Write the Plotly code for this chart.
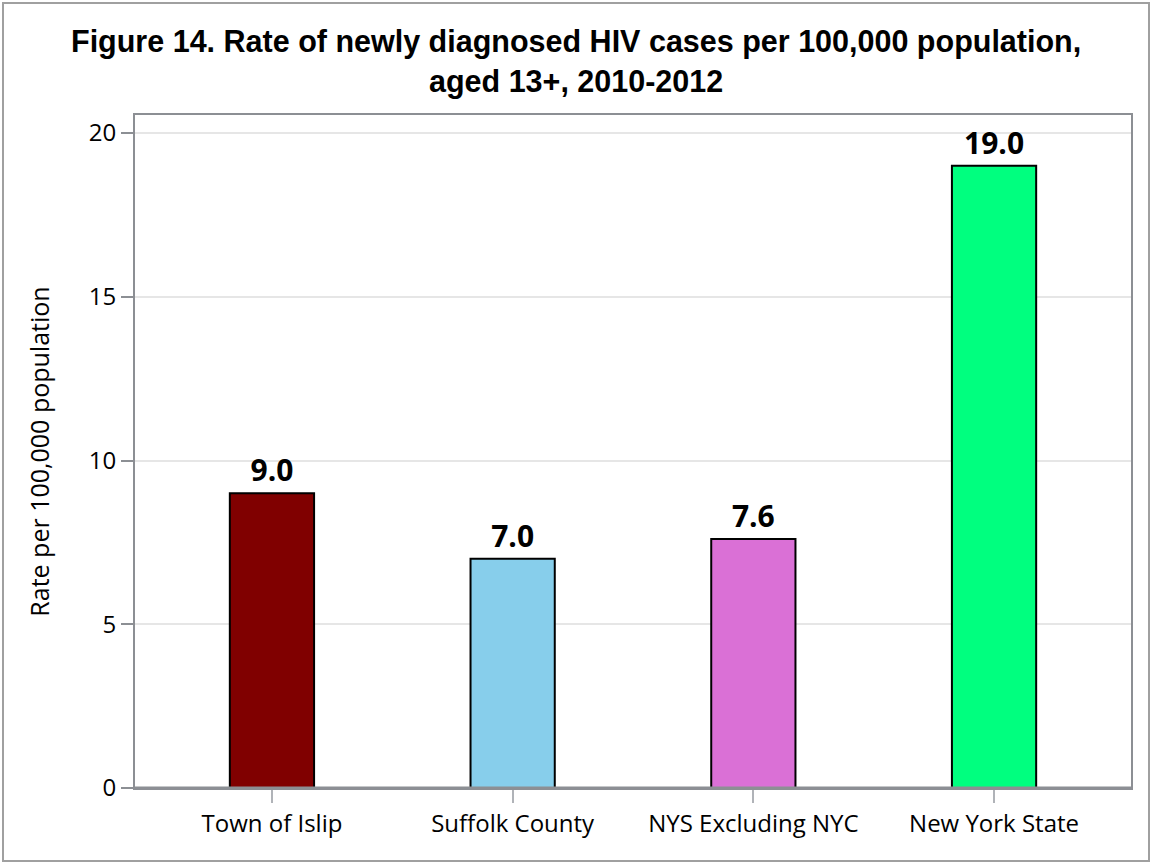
import plotly.graph_objects as go

categories = ["Town of Islip", "Suffolk County", "NYS Excluding NYC", "New York State"]
rates = [9.0, 7.0, 7.6, 19.0]
colors = ["#800000", "#87CEEB", "#DA70D6", "#00FF7F"]
y_ticks = [0, 5, 10, 15, 20]
title_text = "Figure 14. Rate of newly diagnosed HIV cases per 100,000 population,<br>aged 13+, 2010-2012"

L, R, T, B = 135, 20, 115, 77
W, H = 1151, 865
pw, ph = W - L - R, H - T - B

fig = go.Figure(go.Bar(
    x=list(range(len(categories))), y=rates,
    marker=dict(color=colors, line=dict(color="black", width=2)),
    width=0.35,
    texttemplate="%{y:.1f}", textposition="outside",
    textfont=dict(family="Open Sans", size=30, color="black", weight="bold"),
    cliponaxis=False,
))

fig.update_layout(
    width=W, height=H,
    margin=dict(l=L, r=R, t=T, b=B),
    paper_bgcolor="white", plot_bgcolor="white",
    showlegend=False,
    xaxis=dict(
        tickmode="array", tickvals=list(range(len(categories))), ticktext=categories,
        range=[-0.569, 3.569],
        showline=True, linecolor="#8c8f94", linewidth=2, mirror=True,
        ticks="outside", ticklen=13, tickcolor="#b0b3b8", tickwidth=2,
        tickfont=dict(family="Open Sans", size=24, color="black"),
        showgrid=False, zeroline=False,
    ),
    yaxis=dict(
        range=[0, 20.55], tickvals=y_ticks,
        showline=True, linecolor="#8c8f94", linewidth=2, mirror=True,
        ticks="outside", ticklen=12, tickcolor="#8c8f94", tickwidth=2,
        tickfont=dict(family="Open Sans", size=24, color="black"),
        showgrid=True, gridcolor="#e6e6e6", gridwidth=2,
        zeroline=False,
        title=dict(text="Rate per 100,000 population", standoff=32,
                   font=dict(family="Open Sans", size=25, color="black")),
    ),
)

fig.add_annotation(
    text=title_text, showarrow=False, xref="paper", yref="paper",
    x=(W / 2 - L) / pw, y=(H - B - 22) / ph, xanchor="center", yanchor="top",
    align="center",
    font=dict(family="Liberation Sans", size=30.5, color="black", weight="bold"),
)

# outer frame around the whole picture
fig.add_shape(type="rect", xref="paper", yref="paper",
              x0=(3 - L) / pw, x1=(1149 - L) / pw,
              y0=(H - B - 861) / ph, y1=(H - B - 3) / ph,
              line=dict(color="#a0a0a0", width=2), fillcolor="rgba(0,0,0,0)")
# thicker baseline
fig.add_shape(type="line", xref="paper", yref="y", x0=0, x1=1, y0=0, y1=0,
              line=dict(color="#8c8f94", width=3))

fig.write_html("out.html", config={"displayModeBar": False},
               post_script="document.body.style.margin='0px';")
